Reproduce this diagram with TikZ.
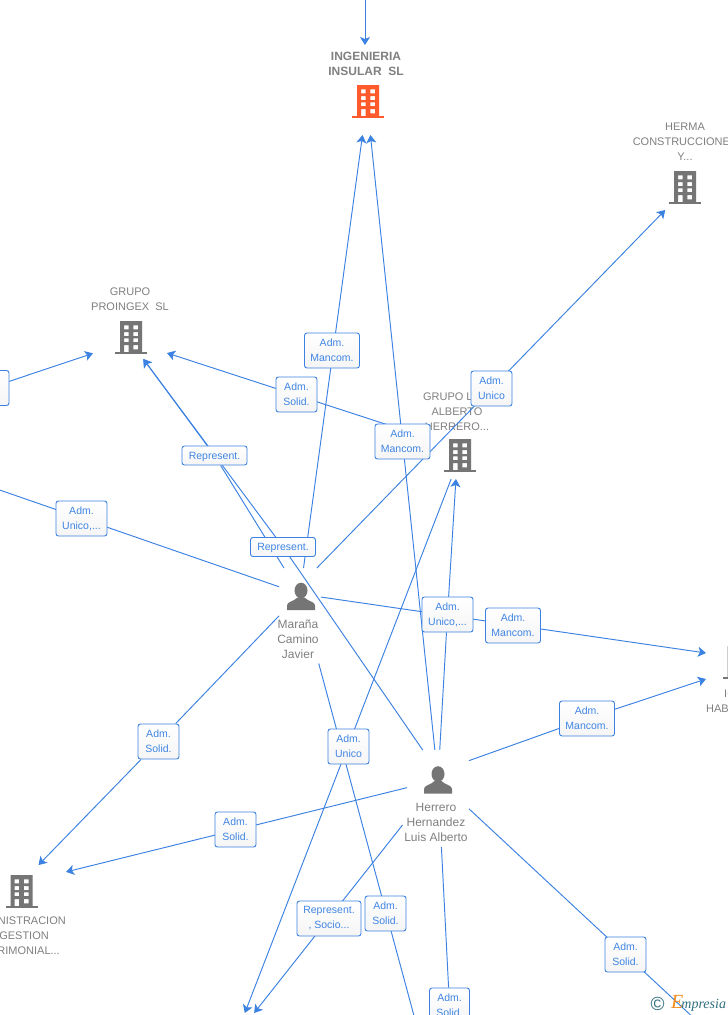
\documentclass[tikz,border=0pt]{standalone}
\usepackage{fontspec}
\setmainfont{Liberation Sans}
\newfontfamily\logofont{Liberation Serif}
\usetikzlibrary{arrows.meta}
\pgfdeclarelayer{baselayer}
\pgfdeclarelayer{edgelayer}
\pgfsetlayers{baselayer,edgelayer,main}
\definecolor{linkblue}{HTML}{3C82E2}
\definecolor{labelblue}{HTML}{3F85E3}
\definecolor{namegray}{HTML}{808080}
\definecolor{icongray}{HTML}{757575}
\definecolor{hotorange}{HTML}{FF5A2B}
\definecolor{logoteal}{HTML}{2F6E7E}
\definecolor{logoorange}{HTML}{F28A1E}
\tikzset{
  link/.style={draw=linkblue,line width=0.95pt},
  tip/.style={link,-{Stealth[length=8pt,width=10pt,inset=2pt]}},
  hub/.style={rectangle,draw=none,fill=none,inner sep=0pt,outer sep=0pt},
  lbl/.style={rectangle,rounded corners=2.5pt,draw=linkblue,line width=0.9pt,top color=white,bottom color=black!4,
    text=labelblue,font=\fontsize{10.5}{15}\selectfont,align=center,inner sep=0pt,minimum height=35pt,
    execute at begin node={\rule{0pt}{10pt}}},
  lblone/.style={lbl,minimum height=19pt},
  cname/.style={text=namegray,font=\fontsize{11}{15}\selectfont,align=center,inner sep=0pt},
  bname/.style={text=namegray,font=\bfseries\fontsize{12}{15}\selectfont,align=center,inner sep=0pt},
  pname/.style={text=namegray,font=\fontsize{12}{15}\selectfont,align=center,inner sep=0pt},
  pics/building/.style={code={
    \fill[#1,even odd rule]
      (-11,0) rectangle (11,31)
      (-7,4.3) rectangle (-2.3,8.3)
      (2.3,4.3) rectangle (7,8.3)
      (-7,11) rectangle (-2.3,15)
      (2.3,11) rectangle (7,15)
      (-7,17.3) rectangle (-2.3,21)
      (2.3,17.3) rectangle (7,21)
      (-7,24) rectangle (-2.3,31)
      (2.3,24) rectangle (7,28.3);
    \fill[#1] (-16,31) rectangle (16,33);
  }},
  pics/person/.style={code={
    \fill[icongray] (0,-6) ellipse [x radius=6.5,y radius=7.8];
    \fill[icongray] (-14,13.5) -- (-14,9) .. controls (-14,5) and (-7,5) .. (-3.5,1) -- (3.5,1) .. controls (7,5) and (14,5) .. (14,9) -- (14,13.5) -- cycle;
  }},
}
\begin{document}
\begin{tikzpicture}[x=1pt,y=-1pt]
\useasboundingbox (0,0) rectangle (728,1015);

% hubs: the boxes connectors stop at
\node[hub,minimum width=74pt,minimum height=66pt] (ing) at (367,102) {};
\node[hub,minimum width=74pt,minimum height=36pt] (proingex) at (130,341) {};
\node[hub,minimum width=74pt,minimum height=44pt] (herma) at (685,188) {};
\node[hub,minimum width=74pt,minimum height=46pt] (luis) at (460,456) {};
\node[hub,minimum width=90pt,minimum height=36pt] (admin) at (21,883) {};
\node[hub,minimum width=42pt,minimum height=52pt] (marana) at (300,594) {};
\node[hub,minimum width=62pt,minimum height=60pt] (herrero) at (438,780) {};
\node[hub,minimum width=74pt,minimum height=46pt] (offbottom) at (236,1036) {};
\coordinate (ingsrc) at (365,-5);
\coordinate (ingtop) at (365,45);
\coordinate (offleft) at (-139,442);
\coordinate (offleftb) at (-160,438);
\coordinate (offdown) at (453,1160);
\coordinate (offright) at (812,1128);
\coordinate (ictipa) at (706,653);
\coordinate (ictipb) at (706,679);

\begin{pgfonlayer}{baselayer}
\clip (0,0) rectangle (728,1015);
\fill[white] (0,0) rectangle (728,1015);
% icons
\pic at (368,85) {building=hotorange};
\pic at (131,321) {building=icongray};
\pic at (685,171) {building=icongray};
\pic at (460,439) {building=icongray};
\pic at (21.5,875) {building=icongray};
\pic at (738.5,646) {building=icongray};
\pic at (301,596.5) {person};
\pic at (438,780) {person};
% names
\node[bname] (ingname) at (366,63.5) {INGENIERIA\\INSULAR\ \ SL};
\node[cname] (proname) at (130,299) {GRUPO\\PROINGEX\ \ SL};
\node[cname] (hermaname) at (685,142) {HERMA\\CONSTRUCCIONES\\Y...};
\node[cname] (luisname) at (457,412) {GRUPO LUIS\\ALBERTO\\HERRERO...};
\node[cname,anchor=east] (adminnamea) at (66,921) {NISTRACION};
\node[cname,anchor=east] (adminnameb) at (49,936) {GESTION};
\node[cname,anchor=east] (adminnamec) at (60,951) {RIMONIAL...};
\node[cname,anchor=west] (icnamea) at (724,694) {IC};
\node[cname,anchor=west] (icnameb) at (706,709) {HAB};
\node[pname] (maraname) at (298,639) {Maraña\\Camino\\Javier};
\node[pname] (herrname) at (436,822) {Herrero\\Hernandez\\Luis Alberto};
\end{pgfonlayer}

% labels
\clip (0,0) rectangle (728,1015);
\path
 node[lbl,minimum width=55pt] (lmanc) at (332,350.5) {Adm.\\Mancom.}
 node[lbl,minimum width=41pt] (lsolp) at (296.5,394.5) {Adm.\\Solid.}
 node[lbl,minimum width=41pt] (lunih) at (491.5,388.5) {Adm.\\Unico}
 node[lbl,minimum width=55pt] (lmanb) at (402.5,441.5) {Adm.\\Mancom.}
 node[lblone,minimum width=65pt] (lrepa) at (214.5,455.5) {Represent.}
 node[lblone,minimum width=65pt] (lrepb) at (283,547) {Represent.}
 node[lbl,minimum width=51pt] (luniw) at (81.5,518.5) {Adm.\\Unico,...}
 node[lbl,minimum width=51pt] (lunil) at (447.5,614.5) {Adm.\\Unico,...}
 node[lbl,minimum width=55pt] (lmanr) at (513,625.5) {Adm.\\Mancom.}
 node[lbl,minimum width=55pt] (lmanq) at (587,718.5) {Adm.\\Mancom.}
 node[lbl,minimum width=41pt] (lsolm) at (158.5,741.5) {Adm.\\Solid.}
 node[lbl,minimum width=41pt] (lunid) at (348.5,746.5) {Adm.\\Unico}
 node[lbl,minimum width=41pt] (lsolh) at (235.5,829.5) {Adm.\\Solid.}
 node[lbl,minimum width=64pt] (lrepc) at (329,918.5) {Represent.\\, Socio...}
 node[lbl,minimum width=41pt] (lsold) at (385.5,913.5) {Adm.\\Solid.}
 node[lbl,minimum width=41pt] (lsolr) at (625.5,954.5) {Adm.\\Solid.}
 node[lbl,minimum width=40pt] (lsolb) at (449.5,1005.5) {Adm.\\Solid.}
 node[lbl,minimum width=48pt] (lwest) at (-15,388) {};

% connectors run beneath the labels
\begin{pgfonlayer}{edgelayer}
\clip (0,0) rectangle (728,1015);
\draw[tip] (ingsrc) -- (ingtop);
\draw[tip] (marana) -- (ing);
\draw[tip] (herrero) -- (ing);
\draw[tip] (marana.57) -- (herma.228);
\draw[tip] (luis.152) -- (proingex);
\draw[tip] (offleftb) -- (proingex);
\draw[tip] (marana) -- (lrepa) -- (proingex);
\draw[tip] (herrero.117) -- (lrepb) -- (proingex);
\draw[link] (marana) -- (offleft);
\draw[tip] (marana) -- (ictipa);
\draw[tip] (herrero) -- (lunil) -- (luis.260);
\draw[tip] (luis) -- (offbottom);
\draw[link,shorten <=45pt] (marana) -- (offdown);
\draw[tip] (marana) -- (lsolm) -- (admin);
\draw[tip] (herrero) -- (admin);
\draw[tip,shorten <=19pt] (herrero) -- (offbottom);
\draw[link,shorten <=37pt] (herrero) -- (lsolb);
\draw[link] (herrero) -- (offright);
\draw[tip] (herrero.32) -- (lmanq) -- (ictipb);
\end{pgfonlayer}

% logo
\node[inner sep=0pt,text=logoteal,font=\fontsize{19}{19}\selectfont] (logoc) at (657.5,1004) {©};
\node[inner sep=0pt,anchor=base west,text=logoteal,font=\logofont\itshape\fontsize{14}{14}\selectfont] (logot) at (671,1008.5)
  {{\color{logoorange}\fontsize{20}{20}\selectfont E}\kern-2pt mpresia};
\end{tikzpicture}
\end{document}
